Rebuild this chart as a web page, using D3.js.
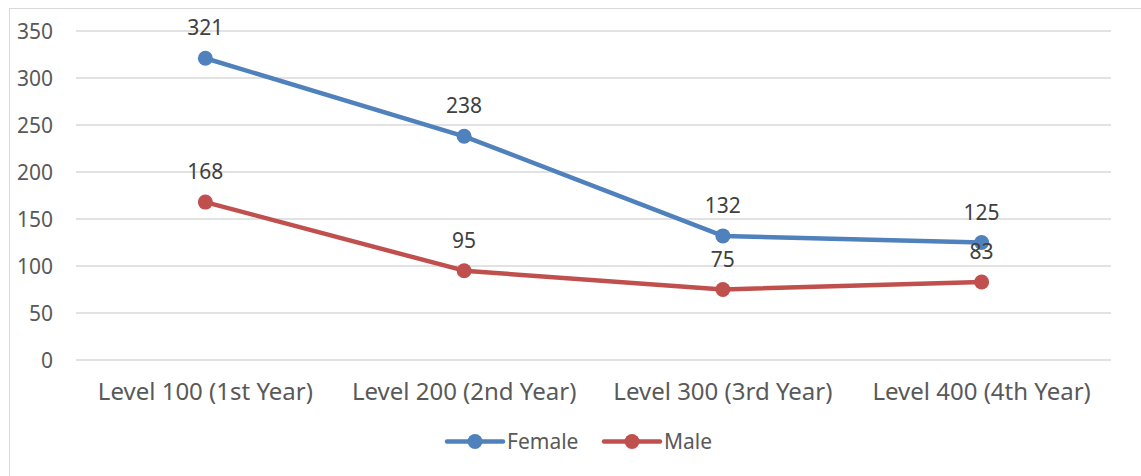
<!DOCTYPE html>
<html><head><meta charset="utf-8">
<script src="https://cdn.jsdelivr.net/npm/d3@7"></script>
<style>body{margin:0;background:#fff;}svg{display:block;font-family:"Noto Sans",sans-serif;}</style>
</head><body><svg id="c" width="1141" height="476"></svg>
<script>
const categories = ["Level 100 (1st Year)", "Level 200 (2nd Year)", "Level 300 (3rd Year)", "Level 400 (4th Year)"];
const female = [321, 238, 132, 125];
const male = [168, 95, 75, 83];
const yTicks = [0, 50, 100, 150, 200, 250, 300, 350];
const seriesNames = ["Female", "Male"];
const colors = ["#4F81BD", "#C0504D"];
const FS = 21;

const svg = d3.select("#c");
svg.append("rect").attr("x", 9.5).attr("y", 8.5).attr("width", 1145).attr("height", 480)
  .attr("fill", "#fff").attr("stroke", "#d9d9d9");

const x = d3.scaleBand().domain(categories).range([76, 1111]);
const y = d3.scaleLinear().domain([0, 350]).range([360, 31]);

svg.append("g").selectAll("line").data(yTicks).join("line")
  .attr("x1", 76).attr("x2", 1111).attr("y1", d => y(d)).attr("y2", d => y(d))
  .attr("stroke", "#d9d9d9").attr("stroke-width", 1.3);

const yAxis = svg.append("g").attr("transform", "translate(76,0)")
  .call(d3.axisLeft(y).tickValues(yTicks).tickSize(0).tickPadding(23));
yAxis.select(".domain").remove();
yAxis.selectAll("text").attr("font-size", FS).attr("fill", "#595959").attr("font-family", "Noto Sans").attr("dy", "0.36em");

const xAxis = svg.append("g").attr("transform", "translate(0,360)")
  .call(d3.axisBottom(x).tickSize(0).tickPadding(0));
xAxis.select(".domain").remove();
xAxis.selectAll("text").attr("font-size", 24).attr("fill", "#595959").attr("font-family", "Noto Sans")
  .attr("y", 40).attr("dy", 0);

const cx = d => x(d) + x.bandwidth() / 2;
[female, male].forEach((vals, i) => {
  const pts = categories.map((c, j) => [cx(c), y(vals[j])]);
  svg.append("path").attr("d", d3.line()(pts)).attr("fill", "none")
    .attr("stroke", colors[i]).attr("stroke-width", 4.5).attr("stroke-linejoin", "round").attr("stroke-linecap", "round");
  svg.append("g").selectAll("circle").data(pts).join("circle")
    .attr("cx", d => d[0]).attr("cy", d => d[1]).attr("r", 7.5).attr("fill", colors[i]);
  svg.append("g").selectAll("text").data(vals).join("text")
    .attr("x", (d, j) => cx(categories[j])).attr("y", d => y(d) - 23)
    .attr("text-anchor", "middle").attr("font-size", FS).attr("fill", "#404040").text(d => d);
});

const legX = [447, 604];
seriesNames.forEach((n, i) => {
  const g = svg.append("g").attr("transform", `translate(${legX[i]},441.5)`);
  g.append("line").attr("x1", 0).attr("x2", 56).attr("stroke", colors[i]).attr("stroke-width", 4.5).attr("stroke-linecap", "round");
  g.append("circle").attr("cx", 28).attr("r", 7.5).attr("fill", colors[i]);
  g.append("text").attr("x", 60).attr("y", 7.5).attr("font-size", FS).attr("fill", "#595959").text(n);
});
</script></body></html>
